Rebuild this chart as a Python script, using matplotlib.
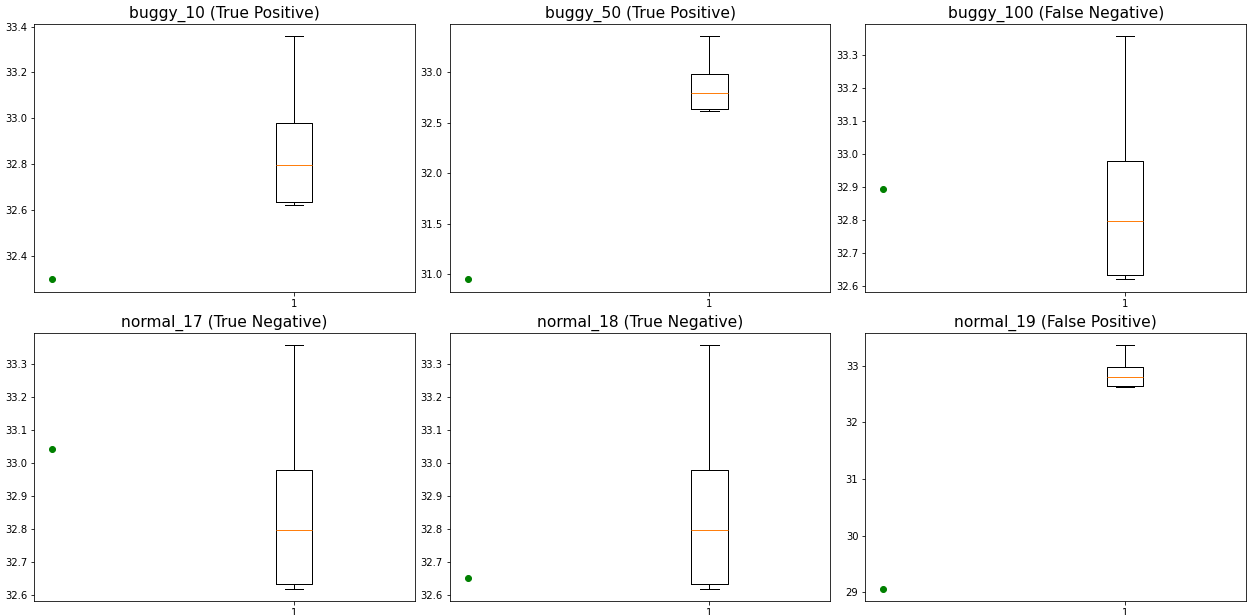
import matplotlib
matplotlib.use("Agg")
import matplotlib.pyplot as plt

# reference run scores (same for every panel)
ref_scores = [32.621, 32.634, 32.797, 32.981, 33.358]

titles = ["buggy_10 (True Positive)", "buggy_50 (True Positive)",
          "buggy_100 (False Negative)", "normal_17 (True Negative)",
          "normal_18 (True Negative)", "normal_19 (False Positive)"]
test_scores = [32.298, 30.95, 32.895, 33.045, 32.652, 29.065]

fig, axes = plt.subplots(2, 3, figsize=(1251 / 72, 615 / 72), dpi=72)
fig.subplots_adjust(left=0.0272, right=0.996, top=0.961, bottom=0.0233,
                    wspace=0.092, hspace=0.155)

for ax, title, score in zip(axes.flat, titles, test_scores):
    ax.boxplot(ref_scores)
    ax.scatter([0], [score], color="g")
    ax.set_xlim(-0.075, 1.5)
    ax.set_title(title, fontsize=15.5)

fig.savefig("out.png", dpi=72)
